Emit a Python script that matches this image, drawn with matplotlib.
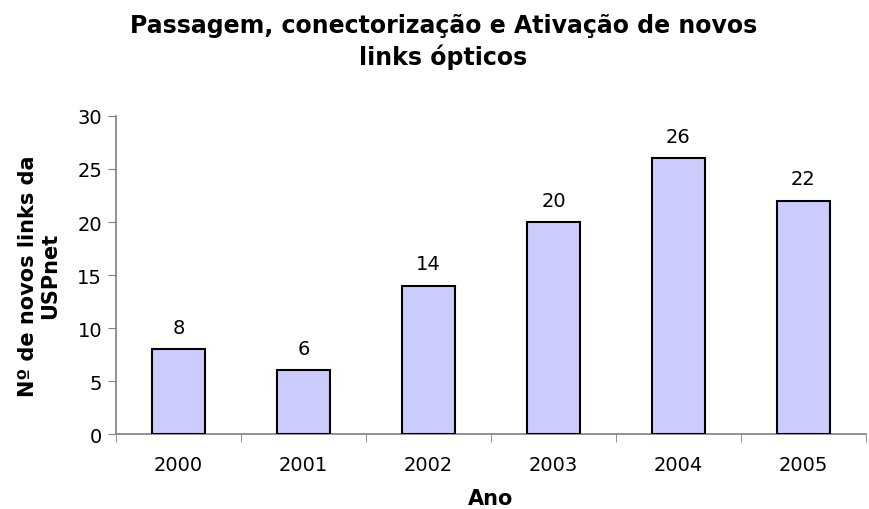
import matplotlib.pyplot as plt

anos = ['2000', '2001', '2002', '2003', '2004', '2005']
links = [8, 6, 14, 20, 26, 22]

plt.rcParams['font.family'] = ['DejaVu Sans']

fig = plt.figure(figsize=(8.69, 5.10), dpi=100)
ax = fig.add_axes([0.1335, 0.147, 0.863, 0.6236])

x = list(range(len(anos)))
ax.bar(x, links, width=0.42, color='#CCCCFF', edgecolor='black',
       linewidth=1.5, zorder=3)
for xi, v in zip(x, links):
    ax.annotate(str(v), (xi, v), xytext=(0, 9), textcoords='offset points',
                ha='center', va='bottom', fontsize=14)

ax.set_xlim(-0.5, len(anos) - 0.5)
ax.set_ylim(0, 30)
ax.set_yticks(range(0, 31, 5))
ax.tick_params(axis='y', labelsize=14, direction='out', length=6,
               color='#808080', pad=4)

# category labels centred, tick marks on the boundaries
ax.set_xticks(x)
ax.set_xticklabels(anos, fontsize=14)
ax.tick_params(axis='x', which='major', length=0, pad=15)
ax.set_xticks([i - 0.5 for i in range(len(anos) + 1)], minor=True)
ax.tick_params(axis='x', which='minor', length=6, direction='out',
               color='#808080')

for side in ('top', 'right'):
    ax.spines[side].set_visible(False)
for side in ('left', 'bottom'):
    ax.spines[side].set_color('#808080')
    ax.spines[side].set_linewidth(1.2)

ax.set_xlabel('Ano', fontsize=15, fontweight='bold', labelpad=10)
ax.set_ylabel('Nº de novos links da\nUSPnet', fontsize=15,
              fontweight='bold', linespacing=1.1)
ax.yaxis.set_label_coords(-0.075, 0.5)

fig.text(0.51, 0.863, 'Passagem, conectorização e Ativação de novos\nlinks ópticos',
         ha='center', va='bottom', fontsize=17, fontweight='bold',
         linespacing=1.3)

fig.savefig('out.png', dpi=100)
